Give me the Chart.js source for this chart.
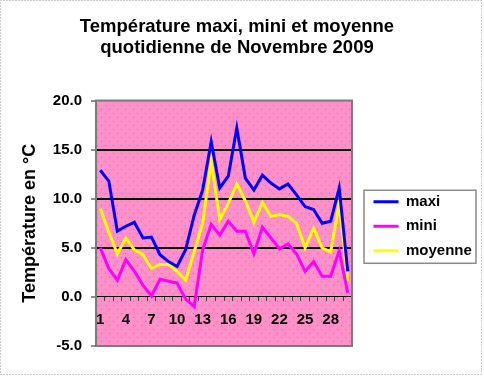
<!DOCTYPE html>
<html>
<head>
<meta charset="utf-8">
<script src="https://cdn.jsdelivr.net/npm/chart.js@4/dist/chart.umd.min.js"></script>
<style>
  html, body { margin: 0; padding: 0; background: #fff; }
  canvas { display: block; }
</style>
</head>
<body>
<canvas id="tempChart" width="484" height="376"></canvas>
<script>
const jours = ['1', '2', '3', '4', '5', '6', '7', '8', '9', '10',
    '11', '12', '13', '14', '15', '16', '17', '18', '19', '20',
    '21', '22', '23', '24', '25', '26', '27', '28', '29', '30'];

const maxi = [12.9, 11.8, 6.7, 7.2, 7.6, 6.0, 6.1, 4.3, 3.6, 3.1,
    4.8, 8.3, 10.9, 15.8, 11.1, 12.3, 17.2, 12.1, 10.9, 12.4,
    11.6, 11.0, 11.5, 10.4, 9.2, 8.9, 7.5, 7.7, 11.1, 2.6];

const mini = [5.0, 2.9, 1.7, 3.8, 2.6, 1.2, 0.1, 1.8, 1.6, 1.4,
    -0.2, -1.0, 4.8, 7.4, 6.3, 7.7, 6.7, 6.7, 4.4, 7.1,
    6.0, 4.9, 5.4, 4.4, 2.6, 3.6, 2.1, 2.1, 4.7, 0.4];

const moyenne = [9.0, 6.6, 4.4, 6.0, 4.8, 4.3, 2.9, 3.3, 3.3, 2.6,
    1.7, 4.6, 7.5, 13.8, 7.9, 9.5, 11.5, 9.8, 7.6, 9.6,
    8.2, 8.4, 8.2, 7.5, 5.0, 7.0, 5.0, 4.6, 9.5, 1.6];

const yMin = -5;
const yMax = 20;
const yStep = 5;

// pink dotted fill, like the old Excel plot area
function makePattern() {
    const tile = document.createElement('canvas');
    tile.width = 8;
    tile.height = 8;
    const t = tile.getContext('2d');
    t.fillStyle = '#ff8fc8';
    t.fillRect(0, 0, 8, 8);
    t.fillStyle = '#cc6fa2';
    t.fillRect(1, 1, 1, 1);
    t.fillRect(5, 5, 1, 1);
    return tile;
}

const excelLook = {
    id: 'excelLook',
    beforeLayout(chart) {
        const lg = chart.legend;
        if (lg && !lg._fixed) {
            const fit = lg.fit.bind(lg);
            lg.fit = function () { fit(); this.width = 112; };
            lg._fixed = true;
        }
    },
    afterLayout(chart) {
        // legend sits a bit right of the plot, centred on it
        const lg = chart.legend;
        const a = chart.chartArea;
        lg.left += 12;
        lg.right += 12;
        lg.top = a.top + 3;
        lg.bottom = a.bottom + 3;
        lg.height = a.bottom - a.top;
    },
    beforeDraw(chart) {
        const { ctx, chartArea: a } = chart;
        ctx.save();
        ctx.fillStyle = ctx.createPattern(makePattern(), 'repeat');
        ctx.fillRect(a.left, a.top, a.right - a.left, a.bottom - a.top);
        ctx.restore();
    },
    afterDatasetsDraw(chart) {
        const { ctx, chartArea: a } = chart;
        ctx.save();
        ctx.strokeStyle = '#7a7a7a';
        ctx.lineWidth = 2;
        ctx.strokeRect(a.left, a.top, a.right - a.left, a.bottom - a.top);
        ctx.restore();
    },
    afterDraw(chart) {
        const ctx = chart.ctx;
        const lg = chart.legend;
        const boxes = lg.legendHitBoxes;
        ctx.save();
        if (boxes.length) {
            const top = boxes[0].top - 4;
            const last = boxes[boxes.length - 1];
            const bottom = last.top + last.height + 5;
            ctx.strokeStyle = '#8a8a8a';
            ctx.lineWidth = 1.5;
            ctx.strokeRect(lg.left, top, lg.right - lg.left, bottom - top);
        }
        // dotted outer frame
        ctx.strokeStyle = '#9a9a9a';
        ctx.lineWidth = 1;
        ctx.setLineDash([1, 2]);
        ctx.strokeRect(0.5, 0.5, chart.width - 3, chart.height - 2);
        ctx.restore();
    }
};

const boldFont = (size) => ({ family: 'Arial, "Liberation Sans", sans-serif', size: size, weight: 'bold' });

new Chart(document.getElementById('tempChart'), {
    type: 'line',
    data: {
        labels: jours,
        datasets: [
            { label: 'maxi', data: maxi, borderColor: '#0000ff', backgroundColor: '#0000ff', borderWidth: 3 },
            { label: 'mini', data: mini, borderColor: '#ff00ff', backgroundColor: '#ff00ff', borderWidth: 3 },
            { label: 'moyenne', data: moyenne, borderColor: '#ffff00', backgroundColor: '#ffff00', borderWidth: 3 }
        ]
    },
    options: {
        responsive: false,
        animation: false,
        devicePixelRatio: 1,
        layout: { padding: { left: 10, right: 20, top: 0, bottom: 30 } },
        elements: {
            line: { borderWidth: 3, tension: 0, fill: false },
            point: { radius: 0, hoverRadius: 0 }
        },
        scales: {
            x: {
                type: 'category',
                position: { y: 0 },
                offset: true,
                grid: {
                    drawOnChartArea: false,
                    drawTicks: true,
                    offset: true,
                    tickLength: 4,
                    tickColor: '#404040',
                    color: '#404040'
                },
                border: { display: true, color: '#000', width: 1 },
                ticks: {
                    autoSkip: false,
                    maxRotation: 0,
                    padding: 10,
                    color: '#000',
                    font: boldFont(15),
                    callback(value, index) {
                        return index % 3 === 0 ? this.getLabelForValue(value) : '';
                    }
                },
                afterFit(scale) { scale.height = 0; }
            },
            y: {
                min: yMin,
                max: yMax,
                grid: {
                    color: (c) => [5, 10, 15].includes(c.tick.value) ? '#000' : 'rgba(0,0,0,0)',
                    lineWidth: 2,
                    tickLength: 5,
                    tickColor: '#202020',
                    tickWidth: 1
                },
                border: { display: false },
                ticks: {
                    stepSize: yStep,
                    padding: 9,
                    color: '#000',
                    font: boldFont(15),
                    callback: (v) => v.toFixed(1)
                },
                title: {
                    display: true,
                    text: 'Température en °C',
                    color: '#000',
                    font: boldFont(18),
                    padding: { top: 9, bottom: 0 }
                },
                afterFit(scale) { scale.width = 86; }
            }
        },
        plugins: {
            title: {
                display: true,
                text: ['Température maxi, mini et moyenne', 'quotidienne de Novembre 2009'],
                color: '#000',
                font: { family: 'Arial, "Liberation Sans", sans-serif', size: 18.5, weight: 'bold', lineHeight: 1.15 },
                padding: { top: 16, bottom: 42 }
            },
            legend: {
                position: 'right',
                align: 'center',
                labels: {
                    usePointStyle: true,
                    pointStyle: 'line',
                    pointStyleWidth: 25,
                    padding: 9.5,
                    color: '#000',
                    font: boldFont(15)
                }
            },
            tooltip: { enabled: false }
        }
    },
    plugins: [excelLook]
});
</script>
</body>
</html>
